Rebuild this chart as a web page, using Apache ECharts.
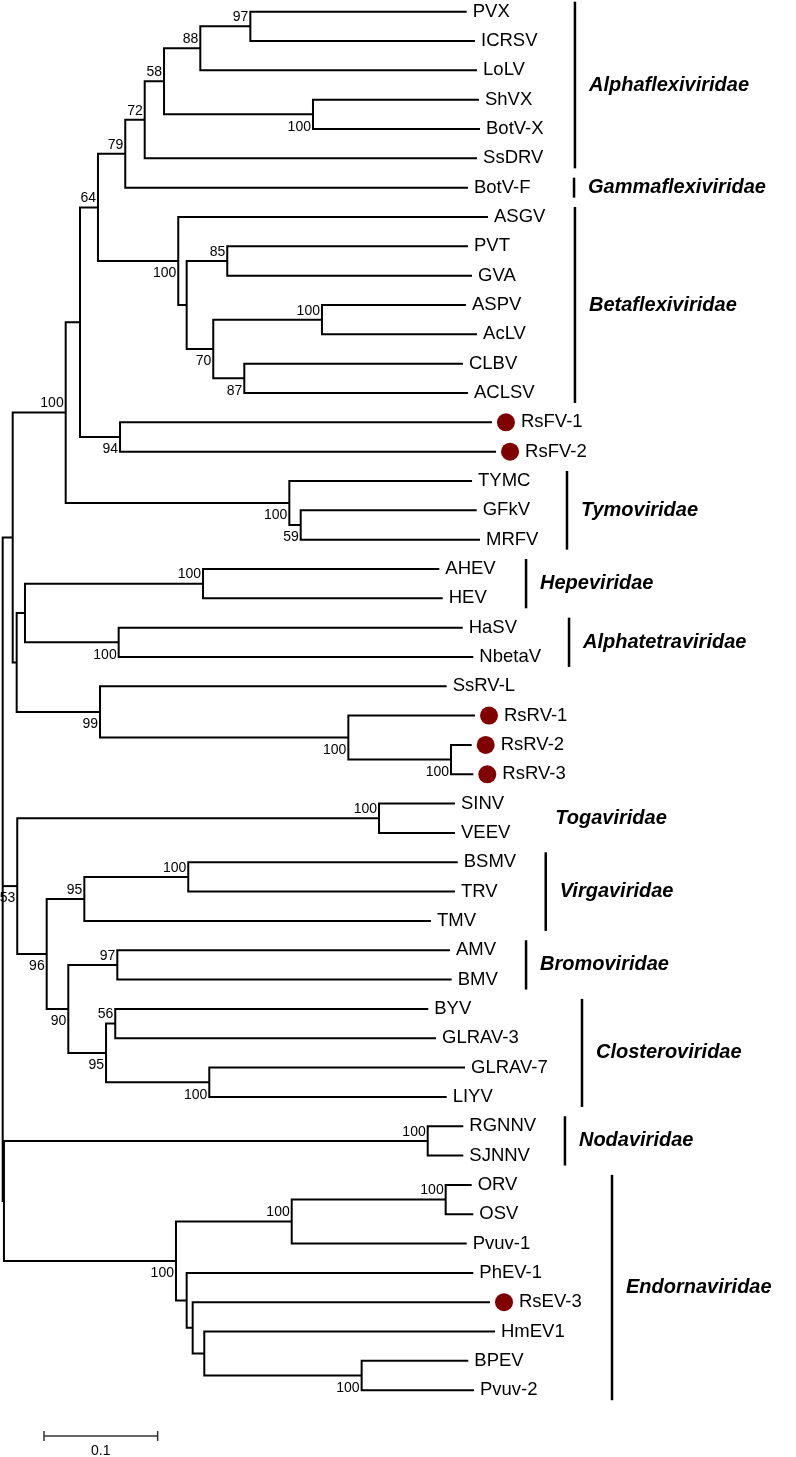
<!DOCTYPE html>
<html><head><meta charset="utf-8">
<script src="https://cdn.jsdelivr.net/npm/echarts@6/dist/echarts.min.js"></script>
<style>html,body{margin:0;padding:0;background:#fff}#c{width:796px;height:1457px}</style>
</head><body><div id="c"></div>
<script>
// ---- data ----
const leafNames = ['PVX','ICRSV','LoLV','ShVX','BotV-X','SsDRV','BotV-F','ASGV','PVT','GVA','ASPV','AcLV','CLBV','ACLSV','RsFV-1','RsFV-2','TYMC','GFkV','MRFV','AHEV','HEV','HaSV','NbetaV','SsRV-L','RsRV-1','RsRV-2','RsRV-3','SINV','VEEV','BSMV','TRV','TMV','AMV','BMV','BYV','GLRAV-3','GLRAV-7','LIYV','RGNNV','SJNNV','ORV','OSV','Pvuv-1','PhEV-1','RsEV-3','HmEV1','BPEV','Pvuv-2'];
// distance from root to each tip
const leafDepth = [0.4081,0.4154,0.4172,0.4189,0.4198,0.4172,0.4092,0.4268,0.4092,0.4128,0.4075,0.4172,0.4048,0.4092,0.4303,0.4339,0.4128,0.4169,0.4198,0.3840,0.3870,0.4046,0.4139,0.3905,0.4154,0.4125,0.4139,0.3978,0.3978,0.4002,0.3978,0.3767,0.3934,0.3949,0.3743,0.3811,0.4066,0.3905,0.4051,0.4051,0.4125,0.4139,0.4081,0.4139,0.4286,0.4330,0.4095,0.4145];
const novelLeaves = ['RsFV-1','RsFV-2','RsRV-1','RsRV-2','RsRV-3','RsEV-3'];
// internal nodes (children listed before parents)
const nodeNames = ['n97','n88','nShB','n58','n72','n79','n85','nAsp','n87','n70','nB2','nBeta','n64','n94','nF','n59','nTymo','n100a','nHepe','nAT','nHA','nR23','nRs','n99','nB','nA','nToga','nBT','nVirga','nBromo','n56','nGL','nClost','n90','n96','n53','nNoda','nOO','nPv1','nBP','nE3','nE2','nE1','nEndo','nNE','root'];
const nodeChildren = [['PVX','ICRSV'],['n97','LoLV'],['ShVX','BotV-X'],['n88','nShB'],['n58','SsDRV'],['n72','BotV-F'],['PVT','GVA'],['ASPV','AcLV'],['CLBV','ACLSV'],['nAsp','n87'],['n85','n70'],['ASGV','nB2'],['n79','nBeta'],['RsFV-1','RsFV-2'],['n64','n94'],['GFkV','MRFV'],['TYMC','n59'],['nF','nTymo'],['AHEV','HEV'],['HaSV','NbetaV'],['nHepe','nAT'],['RsRV-2','RsRV-3'],['RsRV-1','nR23'],['SsRV-L','nRs'],['nHA','n99'],['n100a','nB'],['SINV','VEEV'],['BSMV','TRV'],['nBT','TMV'],['AMV','BMV'],['BYV','GLRAV-3'],['GLRAV-7','LIYV'],['n56','nGL'],['nBromo','nClost'],['nVirga','n90'],['nToga','n96'],['RGNNV','SJNNV'],['ORV','OSV'],['nOO','Pvuv-1'],['BPEV','Pvuv-2'],['HmEV1','nBP'],['RsEV-3','nE3'],['PhEV-1','nE2'],['nPv1','nE1'],['nNoda','nEndo'],['nA','n53','nNE']];
const nodeDepth = [0.2178,0.1738,0.2729,0.1419,0.1249,0.1078,0.1975,0.2808,0.2125,0.1852,0.1618,0.1544,0.0838,0.1032,0.0680,0.2621,0.2521,0.0554,0.1762,0.1020,0.0196,0.3943,0.3040,0.0856,0.0123,0.0088,0.3310,0.1632,0.0718,0.1008,0.0990,0.1817,0.0909,0.0577,0.0387,0.0128,0.3738,0.3896,0.2542,0.3157,0.1773,0.1671,0.1618,0.1524,0.0011,0];
const nodeSupport = [97,88,100,58,72,79,85,100,87,70,null,100,64,94,null,59,100,100,100,100,null,100,100,99,null,null,100,100,95,97,56,100,95,90,96,53,100,100,100,100,null,null,null,100,null,null];
const familyNames = ['Alphaflexiviridae','Gammaflexiviridae','Betaflexiviridae','Tymoviridae','Hepeviridae','Alphatetraviridae','Togaviridae','Virgaviridae','Bromoviridae','Closteroviridae','Nodaviridae','Endornaviridae'];
const familyFirst = ['PVX','BotV-F','ASGV','TYMC','AHEV','HaSV','SINV','BSMV','AMV','BYV','RGNNV','ORV'];
const familyLast = ['SsDRV','BotV-F','ACLSV','MRFV','HEV','NbetaV','VEEV','TMV','BMV','LIYV','SJNNV','Pvuv-2'];
const scaleLength = 0.1;

// ---- layout / style ----
const supportSide = ['up','up','down','up','up','up','up','up','down','down','','down','up','down','','down','down','up','up','down','','down','down','down','','','up','up','up','up','up','down','down','down','down','down','up','up','up','down','','','','down','',''];
const familyBarX = [0.5033,0.5025,0.5033,0.4963,0.4603,0.4981,null,0.4776,0.4603,0.5095,0.4945,0.5359];
const familyLabelX = [null,null,null,null,null,null,0.4860,null,null,null,null,null];
const FONT = "'Liberation Sans', Arial, Helvetica, sans-serif";
const scaleBarStart = 0.0363, scaleBarY = 48.56;

// ---- build positions ----
const pos = {};
leafNames.forEach((n, i) => { pos[n] = { d: leafDepth[i], y: i }; });
nodeNames.forEach((n, k) => {
  const ys = nodeChildren[k].map(c => pos[c].y);
  pos[n] = { d: nodeDepth[k], y: (ys[0] + ys[ys.length - 1]) / 2 };
});

const chart = echarts.init(document.getElementById('c'), null, { renderer: 'canvas' });
const lineStyle = { stroke: '#000', lineWidth: 2, fill: null, lineJoin: 'miter', lineCap: 'butt' };

const option = {
  animation: false,
  backgroundColor: '#fff',
  grid: { left: 0, right: 0, top: 11.7, bottom: 66.8 },
  xAxis: { type: 'value', min: -0.00237, max: 0.69772, show: false },
  yAxis: { type: 'value', min: 0, max: 47, inverse: true, show: false },
  series: [
    { // branches
      type: 'custom', silent: true, clip: false,
      data: nodeNames.map((n, k) => [pos[n].d, pos[n].y, k]),
      renderItem(params, api) {
        const k = api.value(2);
        const p = pos[nodeNames[k]];
        const ch = nodeChildren[k];
        const f = pos[ch[0]], l = pos[ch[ch.length - 1]];
        const pts = [api.coord([f.d, f.y]), api.coord([p.d, f.y]), api.coord([p.d, l.y]), api.coord([l.d, l.y])];
        const children = [{ type: 'polyline', shape: { points: pts }, style: lineStyle }];
        for (let j = 1; j < ch.length - 1; j++) {
          const m = pos[ch[j]];
          const a = api.coord([p.d, m.y]), b = api.coord([m.d, m.y]);
          children.push({ type: 'line', shape: { x1: a[0], y1: a[1], x2: b[0], y2: b[1] }, style: lineStyle });
        }
        return { type: 'group', children };
      }
    },
    { // bootstrap values
      type: 'custom', silent: true, clip: false,
      data: nodeNames.map((n, k) => [pos[n].d, pos[n].y, k]).filter(r => nodeSupport[r[2]] != null),
      renderItem(params, api) {
        const k = api.value(2);
        const c = api.coord([api.value(0), api.value(1)]);
        const up = supportSide[k] === 'up';
        return { type: 'text', x: c[0] - 2, y: c[1] + (up ? -9 : 12.5),
          style: { text: String(nodeSupport[k]), fill: '#000', font: '14px ' + FONT, textAlign: 'right', textVerticalAlign: 'middle' } };
      }
    },
    { // leaf labels
      type: 'custom', silent: true, clip: false,
      data: leafNames.map((n, i) => [leafDepth[i], i]),
      renderItem(params, api) {
        const i = params.dataIndex;
        const c = api.coord([api.value(0), api.value(1)]);
        const nov = novelLeaves.indexOf(leafNames[i]) >= 0;
        return { type: 'text', x: c[0] + (nov ? 29 : 6), y: c[1],
          style: { text: leafNames[i], fill: '#000', font: '18.5px ' + FONT, textAlign: 'left', textVerticalAlign: 'middle' } };
      }
    },
    { // novel virus markers
      type: 'custom', silent: true, clip: false,
      data: novelLeaves.map(n => [pos[n].d, pos[n].y]),
      renderItem(params, api) {
        const c = api.coord([api.value(0), api.value(1)]);
        return { type: 'circle', shape: { cx: c[0] + 14, cy: c[1], r: 9 }, style: { fill: '#800000' } };
      }
    },
    { // family bars and names
      type: 'custom', silent: true, clip: false,
      data: familyNames.map((n, i) => [familyBarX[i] == null ? familyLabelX[i] : familyBarX[i], (pos[familyFirst[i]].y + pos[familyLast[i]].y) / 2, i]),
      renderItem(params, api) {
        const i = api.value(2);
        const y1 = api.coord([0, pos[familyFirst[i]].y])[1] - 10;
        const y2 = api.coord([0, pos[familyLast[i]].y])[1] + 10;
        const els = [];
        let tx;
        if (familyBarX[i] != null) {
          const x = api.coord([familyBarX[i], 0])[0];
          els.push({ type: 'line', shape: { x1: x, y1: y1, x2: x, y2: y2 }, style: { stroke: '#000', lineWidth: 2.5 } });
          tx = x + 14;
        } else {
          tx = api.coord([familyLabelX[i], 0])[0];
        }
        els.push({ type: 'text', x: tx, y: (y1 + y2) / 2,
          style: { text: familyNames[i], fill: '#000', font: 'italic bold 20px ' + FONT, textAlign: 'left', textVerticalAlign: 'middle' } });
        return { type: 'group', children: els };
      }
    },
    { // scale bar
      type: 'custom', silent: true, clip: false,
      data: [[scaleBarStart, scaleBarY]],
      renderItem(params, api) {
        const a = api.coord([scaleBarStart, scaleBarY]);
        const b = api.coord([scaleBarStart + scaleLength, scaleBarY]);
        const st = { stroke: '#333', lineWidth: 1.5 };
        return { type: 'group', children: [
          { type: 'line', shape: { x1: a[0], y1: a[1], x2: b[0], y2: b[1] }, style: st },
          { type: 'line', shape: { x1: a[0], y1: a[1] - 5, x2: a[0], y2: a[1] + 5 }, style: st },
          { type: 'line', shape: { x1: b[0], y1: b[1] - 5, x2: b[0], y2: b[1] + 5 }, style: st },
          { type: 'text', x: (a[0] + b[0]) / 2, y: a[1] + 15, style: { text: String(scaleLength), fill: '#000', font: '14px ' + FONT, textAlign: 'center', textVerticalAlign: 'middle' } }
        ] };
      }
    }
  ]
};
chart.setOption(option);
</script>
</body></html>
